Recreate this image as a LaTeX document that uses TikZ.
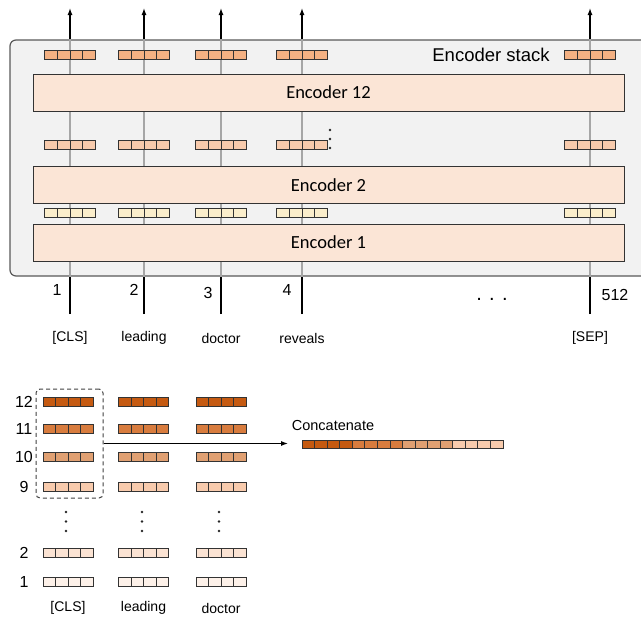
\documentclass[tikz,border=0pt]{standalone}
\usepackage{fontspec}
\setmainfont{Liberation Sans}
\newfontfamily\calfont{Carlito}
\usetikzlibrary{arrows.meta}

\definecolor{stackfill}{HTML}{F2F2F2}
\definecolor{stackline}{HTML}{595959}
\definecolor{encfill}{HTML}{FBE5D6}
\definecolor{vecout}{HTML}{F4B183}
\definecolor{vecmid}{HTML}{F8CBAD}
\definecolor{vecemb}{HTML}{FBEECB}
\definecolor{lay12}{HTML}{C55A11}
\definecolor{lay11}{HTML}{D87C3E}
\definecolor{lay10}{HTML}{E0A072}
\definecolor{lay9}{HTML}{F8CBAD}
\definecolor{lay2}{HTML}{FBE3D3}
\definecolor{lay1}{HTML}{FDF1E9}

\tikzset{
  stackbox/.style={draw=stackline,fill=stackfill,line width=1.2pt,rounded corners=6pt,
    minimum width=650pt,minimum height=236pt,inner sep=0pt},
  encbox/.style={draw=black!80,fill=encfill,line width=0.9pt,minimum width=591pt,
    minimum height=37pt,inner sep=0pt,font=\calfont\fontsize{18.5}{20}\selectfont},
  cell/.style={draw=black!80,line width=0.8pt},
  colline/.style={draw=black!35,line width=1.1pt},
  ioline/.style={draw=black,line width=1.3pt},
  outarrow/.style={ioline,-{Latex[length=7pt,width=5pt]}},
  numlbl/.style={font=\fontsize{16}{18}\selectfont,inner sep=0pt},
  wordlbl/.style={font=\fontsize{14}{16}\selectfont,inner sep=0pt},
  dashbox/.style={draw=black!75,dash pattern=on 4pt off 3pt,line width=1pt,
    rounded corners=4pt,minimum width=67pt,minimum height=109pt}
}

\begin{document}
\begin{tikzpicture}[x=1pt,y=-1pt]
\useasboundingbox (0,0) rectangle (641,621);
\clip (0,0) rectangle (641,621);

% Encoder stack
\node[stackbox] (stack) at (335,158) {};
\node[font=\fontsize{18.5}{20}\selectfont] (stacklbl) at (491,55) {Encoder stack};

% Token columns
\foreach \x [count=\i] in {70,144,221,302,590} {
    \coordinate (bot\i) at (\x,314);
    \coordinate (top\i) at (\x,8);
    \draw[colline] (stack.south -| bot\i) -- (stack.north -| top\i);
    \draw[ioline] (bot\i) -- (stack.south -| bot\i);
    \draw[outarrow] (stack.north -| top\i) -- (top\i);
}

\node[encbox] (enc12) at (328.5,92.5) {Encoder 12};
\node[encbox] (enc2) at (328.5,185) {Encoder 2};
\node[encbox] (enc1) at (328.5,242.5) {Encoder 1};

% Token vectors between layers
\foreach \x in {70,144,221,302,590} {
    \foreach \i in {0,...,3} {
        \draw[cell,fill=vecout] (\x-25.5+\i*12.75,50.5) rectangle ++(12.75,9);
        \draw[cell,fill=vecmid] (\x-25.5+\i*12.75,140.5) rectangle ++(12.75,8.5);
        \draw[cell,fill=vecemb] (\x-25.5+\i*12.75,208.5) rectangle ++(12.75,8.5);
    }
}
\foreach \y in {130,139,148}
    \fill[black!85] (330,\y) circle (1.4pt);

% Positions and input tokens
\node[numlbl] (n1) at (57,290) {1};
\node[numlbl] (n2) at (134,290) {2};
\node[numlbl] (n3) at (208,292.5) {3};
\node[numlbl] (n4) at (287,290) {4};
\node[numlbl] (n512) at (615,295) {512};
\node[font=\fontsize{20}{22}\selectfont] (gap) at (492,299.5) {. . .};

\node[wordlbl] (w1) at (70,338) {[CLS]};
\node[wordlbl] (w2) at (144,338) {leading};
\node[wordlbl] (w3) at (221,338) {doctor};
\node[wordlbl] (w4) at (302,338) {reveals};
\node[wordlbl] (w5) at (590,338) {[SEP]};

% Layer outputs per token
\foreach \y/\c in {402/lay12,428.5/lay11,457/lay10,487/lay9,553/lay2,582/lay1}
    \foreach \x in {68,143.5,221}
        \foreach \i in {0,...,3}
            \draw[cell,fill=\c] (\x-25+\i*12.5,\y-4.5) rectangle ++(12.5,9);

\foreach \y/\t in {402/12,428.5/11,457/10,487/9,553/2,582/1}
    \node[numlbl] (row\t) at (24,\y) {\t};

\foreach \x in {66,142,219}
    \foreach \y in {512,521.5,531}
        \fill[black!85] (\x,\y) circle (1.4pt);

\node[wordlbl] (b1) at (68,608) {[CLS]};
\node[wordlbl] (b2) at (143.5,608) {leading};
\node[wordlbl] (b3) at (221,608) {doctor};

% Last four layers of [CLS] concatenated
\node[dashbox] (sel) at (69.5,443.5) {};
\coordinate (cattip) at (288,443.5);
\draw[outarrow,line width=1.1pt] (sel.east) -- (cattip);

\foreach \c [count=\k from 0] in {lay12,lay11,lay10,lay9}
    \foreach \j in {0,...,3}
        \draw[cell,fill=\c] (302+\k*50.25+\j*12.56,440) rectangle ++(12.56,8.5);
\node[font=\fontsize{14.5}{16}\selectfont,inner sep=0pt] (catlbl) at (333,426) {Concatenate};
\end{tikzpicture}
\end{document}
